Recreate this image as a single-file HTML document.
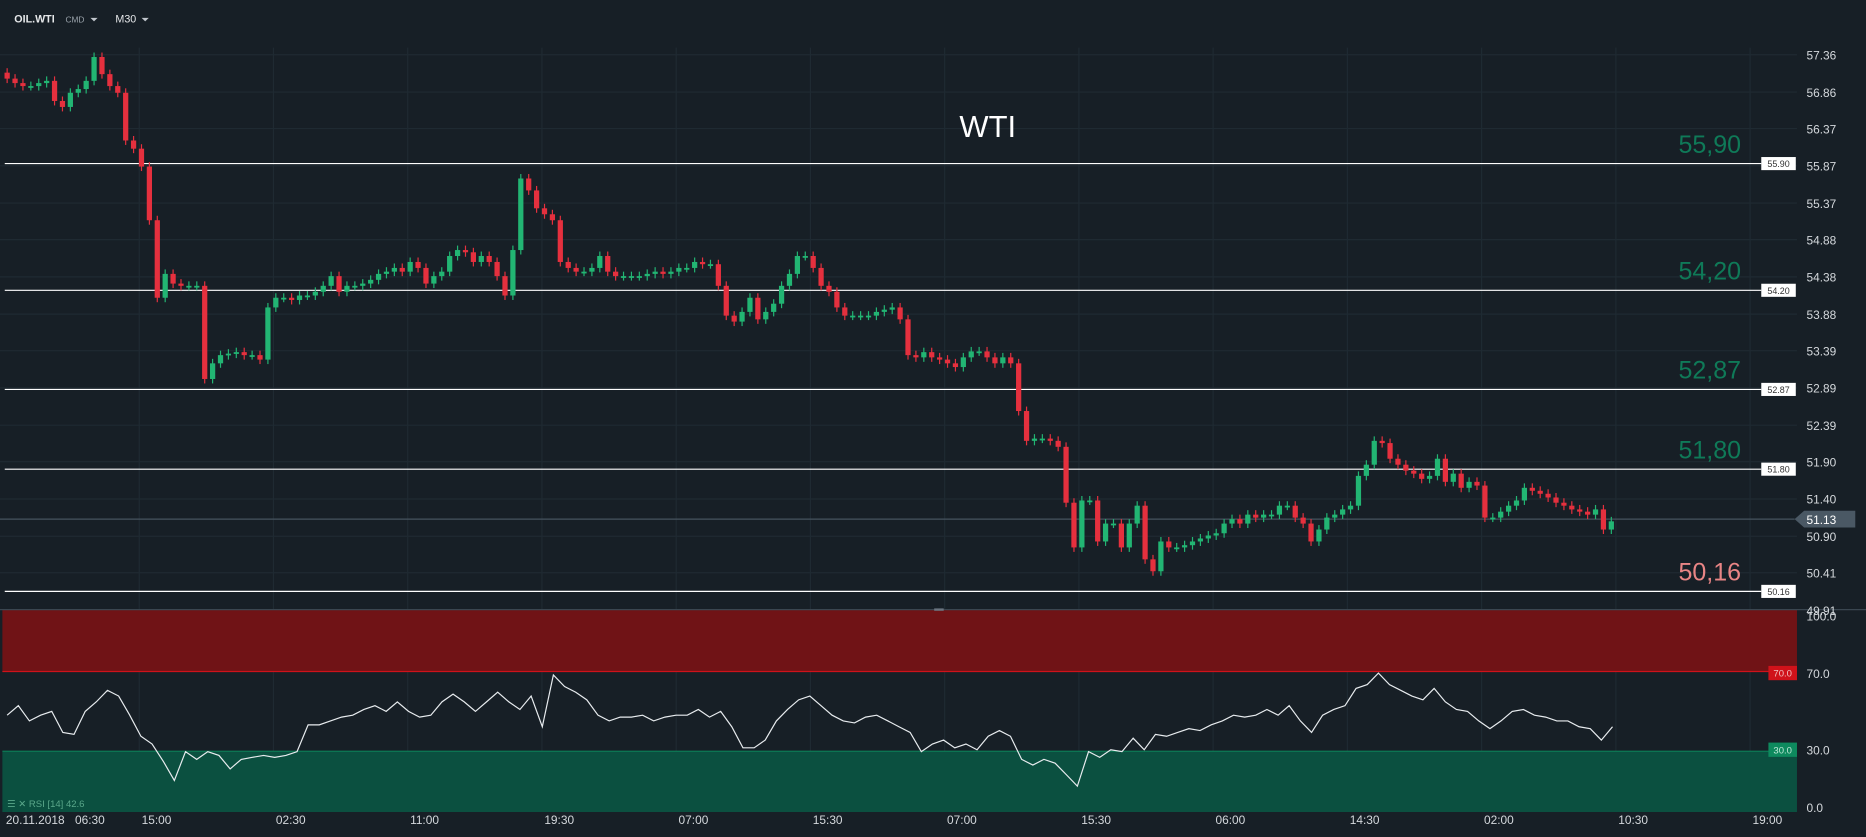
<!DOCTYPE html>
<html><head><meta charset="utf-8"><style>
html,body{margin:0;padding:0;background:#171f26;overflow:hidden}
svg{display:block}
text{font-family:"Liberation Sans",sans-serif}
</style></head><body>
<svg id="chart" width="1866" height="837" viewBox="0 0 1568 703" preserveAspectRatio="none" xmlns="http://www.w3.org/2000/svg">
<rect x="0" y="0" width="1568" height="703" fill="#171f26"/>
<g id="grid"></g>
<rect x="2" y="512" width="1508" height="52" fill="#701316"/>
<line x1="2" y1="564" x2="1510" y2="564" stroke="#d0121a" stroke-width="1"/>
<rect x="2" y="631" width="1508" height="51" fill="#0b5040"/>
<line x1="2" y1="631" x2="1510" y2="631" stroke="#0d7a55" stroke-width="1"/>
<line x1="0" y1="512" x2="1568" y2="512" stroke="#3a4650" stroke-width="1"/>
<rect x="785" y="511" width="8" height="2" fill="#6a7580"/>
<g id="levels"></g>
<g id="candles"></g>
<g id="rsi"></g>
<g id="axes"></g>
<text x="830" y="115" fill="#ffffff" font-size="26" text-anchor="middle">WTI</text>
<text x="12" y="19" fill="#e6e8ea" font-size="9" font-weight="bold">OIL.WTI</text>
<text x="55" y="19" fill="#9aa3ab" font-size="7">CMD</text>
<path d="M76 15 L82 15 L79 18 Z" fill="#c0c6cc"/>
<text x="97" y="19" fill="#e6e8ea" font-size="9">M30</text>
<path d="M119 15 L125 15 L122 18 Z" fill="#c0c6cc"/>
<text x="6" y="678" fill="#5aa78a" font-size="8">☰ ✕ RSI [14]  42.6</text>
</svg>
<script>
const NS='http://www.w3.org/2000/svg';
const closes=[57.04,56.98,56.94,56.94,56.98,57.01,56.74,56.66,56.85,56.90,57.01,57.33,57.10,56.94,56.85,56.21,56.10,55.86,55.14,54.10,54.42,54.29,54.26,54.26,54.26,53.01,53.22,53.33,53.35,53.37,53.33,53.33,53.27,53.97,54.10,54.10,54.07,54.13,54.13,54.18,54.26,54.39,54.18,54.26,54.26,54.29,54.34,54.42,54.45,54.50,54.45,54.58,54.50,54.29,54.39,54.45,54.66,54.74,54.71,54.58,54.66,54.58,54.39,54.13,54.74,55.70,55.54,55.30,55.22,55.14,54.58,54.50,54.45,54.45,54.50,54.66,54.45,54.39,54.39,54.39,54.39,54.42,54.45,54.42,54.45,54.50,54.50,54.58,54.55,54.55,54.26,53.86,53.78,53.91,54.10,53.81,53.91,54.02,54.26,54.42,54.66,54.66,54.50,54.26,54.18,53.97,53.86,53.86,53.86,53.86,53.91,53.94,53.97,53.81,53.33,53.30,53.37,53.30,53.27,53.22,53.17,53.30,53.38,53.38,53.30,53.22,53.30,53.22,52.58,52.18,52.21,52.21,52.18,52.10,51.35,50.75,51.38,51.38,50.83,51.07,51.07,50.75,51.07,51.31,50.59,50.43,50.83,50.75,50.75,50.78,50.83,50.87,50.91,50.94,51.07,51.13,51.07,51.19,51.15,51.19,51.19,51.31,51.31,51.15,51.07,50.83,50.99,51.15,51.19,51.26,51.31,51.71,51.86,52.18,52.15,51.94,51.86,51.78,51.74,51.67,51.71,51.94,51.63,51.74,51.55,51.63,51.58,51.15,51.15,51.23,51.31,51.38,51.55,51.51,51.47,51.42,51.35,51.31,51.26,51.23,51.19,51.26,50.99,51.10];
const firstOpen=57.12;
const rsiValues=[48,53,45,48,50,39,38,50,55,61,58,48,37,33,24,14,29,25,29,27,20,25,26,27,26,27,29,43,43,45,47,48,51,53,50,55,50,47,48,55,59,55,50,55,60,55,51,58,42,69,63,60,56,48,45,47,47,48,45,47,48,48,51,47,50,42,31,31,35,45,51,56,58,53,48,45,44,47,48,45,42,39,29,33,35,31,33,30,37,40,37,25,22,25,23,17,11,29,26,30,29,36,30,38,37,39,41,40,43,45,48,47,48,51,48,53,45,39,48,51,53,62,64,70,64,61,58,56,62,55,51,50,45,41,45,50,51,48,47,45,45,42,41,35,42];
const priceTicks=['57.36','56.86','56.37','55.87','55.37','54.88','54.38','53.88','53.39','52.89','52.39','51.90','51.40','50.90','50.41','49.91'];
const levels=[55.90,54.20,52.87,51.80,50.16];
const levelLabels=['55,90','54,20','52,87','51,80','50,16'];
const rsiTicks=[100,70,30,0];
const timeLabels=['15:00','02:30','11:00','19:30','07:00','15:30','07:00','15:30','06:00','14:30','02:00','10:30','19:00'];
const lastPrice=51.13;

const py=p=>46+(57.36-p)*62.6;
const ry=v=>678-v*1.61;
const cx=i=>6+i*(1354-6)/(closes.length-1);
function mk(tag,attrs,parent){const e=document.createElementNS(NS,tag);for(const k in attrs)e.setAttribute(k,attrs[k]);parent.appendChild(e);return e;}
const G=document.getElementById('grid'),L=document.getElementById('levels'),C=document.getElementById('candles'),R=document.getElementById('rsi'),A=document.getElementById('axes');

priceTicks.forEach((t,i)=>{const y=py(parseFloat(t));
  if(i<priceTicks.length-1)mk('line',{x1:0,y1:y,x2:1510,y2:y,stroke:'#1f2a32','stroke-width':1},G);
  const tx=mk('text',{x:1518,y:y+4,fill:'#d4d8dc','font-size':10},A);tx.textContent=t;
  
  
});
timeLabels.forEach((t,i)=>{const x=117+i*112.8;
  mk('line',{x1:x,y1:40,x2:x,y2:682,stroke:'#1f2a32','stroke-width':1},G);
  const tx=mk('text',{x:x+2,y:692,fill:'#d4d8dc','font-size':10},A);tx.textContent=t;
  
  
});
[['20.11.2018',5],['06:30',63]].forEach(([t,x])=>{const tx=mk('text',{x:x,y:692,fill:'#d4d8dc','font-size':10},A);tx.textContent=t;
  
  
});
rsiTicks.forEach(v=>{const tx=mk('text',{x:1518,y:ry(v)+4,fill:'#d4d8dc','font-size':10},A);tx.textContent=v.toFixed(1);
  
  
});
mk('rect',{x:1486,y:ry(70)-6,width:24,height:12,fill:'#d0121a'},A);
const t70=mk('text',{x:1498,y:ry(70)+3,fill:'#f0c0c0','font-size':8,'text-anchor':'middle'},A);t70.textContent='70.0';
mk('rect',{x:1486,y:ry(30)-6,width:24,height:12,fill:'#0e8a5e'},A);
const t30=mk('text',{x:1498,y:ry(30)+3,fill:'#c0e8d8','font-size':8,'text-anchor':'middle'},A);t30.textContent='30.0';

const cy=py(lastPrice);
mk('line',{x1:0,y1:cy,x2:1508,y2:cy,stroke:'#46535e','stroke-width':1},L);
const tag=mk('path',{d:`M1508 ${cy} L1516 ${cy-7} L1559 ${cy-7} L1559 ${cy+7} L1516 ${cy+7} Z`,fill:'#4a5864'},A);


const tl=mk('text',{x:1518,y:cy+4,fill:'#ffffff','font-size':10},A);tl.textContent=lastPrice.toFixed(2);

levels.forEach((lv,i)=>{const y=py(lv);
  const ln=mk('line',{x1:4,y1:y,x2:1480,y2:y,stroke:'#ffffff','stroke-width':1},L);
  
  
  mk('rect',{x:1480,y:y-5.5,width:29,height:11,fill:'#ffffff'},L);
  const bt=mk('text',{x:1494.5,y:y+3,fill:'#333','font-size':7.5,'text-anchor':'middle'},L);bt.textContent=lv.toFixed(2);
  const lt=mk('text',{x:1463,y:y-9,fill:i===4?'#e98585':'#0f7a58','font-size':21,'text-anchor':'end'},L);lt.textContent=levelLabels[i];
  
  
});

closes.forEach((c,i)=>{const o=i===0?firstOpen:closes[i-1];const x=cx(i);
  const up=c>=o;const col=up?'#22b573':'#e5303e';
  const hi=Math.max(o,c)+0.06,lo=Math.min(o,c)-0.06;
  const g=mk('g',{},C);
  
  
  mk('line',{x1:x,y1:py(hi),x2:x,y2:py(lo),stroke:col,'stroke-width':1},g);
  const top=py(Math.max(o,c)),h=Math.max(1.5,py(Math.min(o,c))-top);
  mk('rect',{x:x-2.2,y:top,width:4.4,height:h,fill:col},g);
});

const rpts=rsiValues.map((v,i)=>{const x=6+i*(1355-6)/(rsiValues.length-1);return x.toFixed(1)+','+ry(v).toFixed(1);}).join(' ');
const rl=mk('polyline',{points:rpts,fill:'none',stroke:'#e8ecef','stroke-width':1},R);


</script>
</body></html>
